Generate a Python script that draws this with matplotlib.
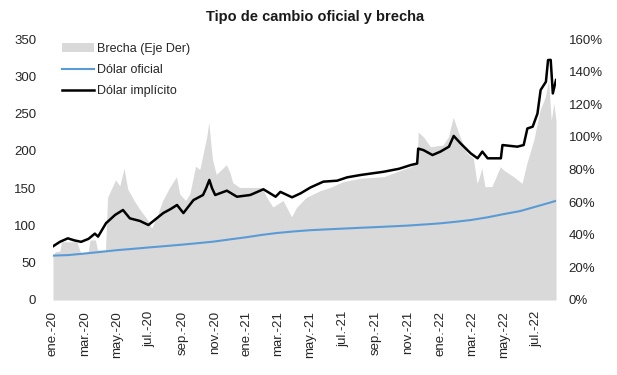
import matplotlib
matplotlib.use("Agg")
import matplotlib.pyplot as plt
import matplotlib.ticker as mticker
import pandas as pd
from matplotlib.patches import Patch
from matplotlib.lines import Line2D

plt.rcParams['font.family'] = ['Liberation Sans', 'DejaVu Sans']

# ---- Data ----
implicito_dates = ["2020-01-01", "2020-01-14", "2020-01-29", "2020-02-10", "2020-02-23", "2020-03-08",
                   "2020-03-20", "2020-03-26", "2020-04-10", "2020-04-27", "2020-05-12", "2020-05-25",
                   "2020-06-13", "2020-06-29", "2020-07-12", "2020-07-27", "2020-08-10", "2020-08-22",
                   "2020-09-03", "2020-09-22", "2020-10-10", "2020-10-16", "2020-10-22", "2020-10-27",
                   "2020-11-02", "2020-11-24", "2020-12-13", "2021-01-07", "2021-02-01", "2021-02-24",
                   "2021-03-05", "2021-03-27", "2021-04-12", "2021-05-01", "2021-05-25", "2021-06-20",
                   "2021-07-09", "2021-08-03", "2021-09-16", "2021-10-15", "2021-11-06", "2021-11-18",
                   "2021-11-20", "2021-11-30", "2021-12-17", "2022-01-01", "2022-01-17", "2022-01-26",
                   "2022-02-08", "2022-02-27", "2022-03-12", "2022-03-21", "2022-03-31", "2022-04-25",
                   "2022-04-28", "2022-05-26", "2022-06-07", "2022-06-14", "2022-06-24", "2022-07-03",
                   "2022-07-09", "2022-07-19", "2022-07-23", "2022-07-28", "2022-08-01", "2022-08-07"]
implicito = [72, 78, 82.7, 80, 78, 82,
             89, 85, 103, 114, 120.7, 109.5,
             106, 100.6, 108, 116.6, 122, 127.4,
             116.6, 134, 140.8, 150, 161, 150,
             140.8, 146.6, 138.5, 140.8, 148.5, 138.5,
             145, 137.7, 143, 151, 158.7, 160,
             164.5, 167.6, 172, 176, 181, 183,
             203, 201, 194.4, 199, 205.6, 220,
             210, 196.7, 190, 199, 190, 190,
             207.8, 205.6, 207.8, 230, 232.4, 250,
             281.6, 292.7, 321.8, 322, 277, 295]

oficial_dates = ["2020-01-01", "2020-01-31", "2020-02-28", "2020-03-31", "2020-04-30", "2020-05-29",
                 "2020-06-30", "2020-07-31", "2020-08-31", "2020-09-30", "2020-10-30", "2020-11-30",
                 "2020-12-30", "2021-01-29", "2021-02-26", "2021-03-31", "2021-04-30", "2021-05-31",
                 "2021-06-30", "2021-07-30", "2021-08-31", "2021-09-30", "2021-10-29", "2021-11-30",
                 "2021-12-30", "2022-01-31", "2022-02-28", "2022-03-31", "2022-04-29", "2022-05-31",
                 "2022-06-30", "2022-07-29", "2022-08-07"]
oficial = [59.5, 60.3, 62.2, 64.5, 66.8, 68.5,
           70.5, 72.3, 74.2, 76.2, 78.3, 81.3,
           84.1, 87.3, 89.8, 92.0, 93.6, 94.7,
           95.7, 96.7, 97.7, 98.7, 99.7, 101.2,
           102.7, 105.0, 107.3, 110.9, 115.0, 119.2,
           125.2, 131.1, 133.0]

brecha_dates = ["2020-01-01", "2020-01-05", "2020-01-14", "2020-01-17", "2020-02-15", "2020-02-22",
                "2020-03-07", "2020-03-11", "2020-03-21", "2020-03-25", "2020-04-09", "2020-04-13",
                "2020-04-28", "2020-05-06", "2020-05-14", "2020-05-21", "2020-06-02", "2020-06-14",
                "2020-06-28", "2020-07-05", "2020-07-16", "2020-07-26", "2020-08-08", "2020-08-21",
                "2020-08-27", "2020-09-07", "2020-09-15", "2020-09-26", "2020-10-04", "2020-10-13",
                "2020-10-17", "2020-10-21", "2020-10-25", "2020-10-28", "2020-11-04", "2020-11-14",
                "2020-11-23", "2020-11-30", "2020-12-05", "2020-12-18", "2021-01-06", "2021-01-29",
                "2021-02-09", "2021-02-19", "2021-03-10", "2021-03-26", "2021-04-05", "2021-04-23",
                "2021-05-19", "2021-06-07", "2021-07-01", "2021-08-03", "2021-09-16", "2021-11-06",
                "2021-11-18", "2021-11-20", "2021-11-30", "2021-12-13", "2022-01-06", "2022-01-16",
                "2022-01-25", "2022-02-07", "2022-02-20", "2022-03-04", "2022-03-11", "2022-03-15",
                "2022-03-20", "2022-03-26", "2022-04-08", "2022-04-24", "2022-04-30", "2022-05-19",
                "2022-06-04", "2022-06-13", "2022-06-26", "2022-07-08", "2022-07-18", "2022-07-24",
                "2022-07-29", "2022-08-03", "2022-08-07"]
brecha = [27, 29.6, 30, 35.7, 35.7, 29,
          29, 36.8, 36.8, 30.7, 30.7, 63,
          73.6, 70, 80.7, 68, 61, 55,
          49, 44, 52, 61, 69, 75.6,
          65, 61, 65, 82, 80, 94,
          100, 109, 95, 86, 77, 80,
          83, 78, 72, 69, 69, 69,
          62, 57, 61, 51, 57, 63,
          67, 69, 72.5, 74.6, 75.6, 81.7,
          84, 103, 100, 94, 95, 100,
          112, 100, 90, 87, 71.5, 75,
          80.7, 69.5, 69.5, 81.7, 79.7, 75.6,
          71.5, 83.8, 98, 116.5, 124.6, 135,
          110, 120.6, 110]

tick_labels = ["ene.-20", "mar.-20", "may.-20", "jul.-20", "sep.-20", "nov.-20",
               "ene.-21", "mar.-21", "may.-21", "jul.-21", "sep.-21", "nov.-21",
               "ene.-22", "mar.-22", "may.-22", "jul.-22"]

# ---- Figure ----
fig = plt.figure(figsize=(6.17, 3.75), dpi=100)
fig.patch.set_facecolor("white")
ax = fig.add_axes([53 / 617, 75 / 375, (556 - 53) / 617, (300 - 39) / 375])
ax2 = ax.twinx()

bd = pd.to_datetime(brecha_dates)
od = pd.to_datetime(oficial_dates)
idt = pd.to_datetime(implicito_dates)

ax2.fill_between(bd, 0, [b / 100 for b in brecha], color="#d9d9d9", linewidth=0, zorder=1)
ax2.set_ylim(0, 1.6)
ax2.yaxis.set_major_locator(mticker.MultipleLocator(0.2))
ax2.yaxis.set_major_formatter(mticker.FuncFormatter(lambda v, p: f"{v*100:.0f}%"))

ax.set_zorder(ax2.get_zorder() + 1)
ax.patch.set_visible(False)

ax.plot(od, oficial, color="#5b9bd5", linewidth=1.5, zorder=3)
ax.plot(idt, implicito, color="black", linewidth=1.8, zorder=4)
ax.set_ylim(0, 350)
ax.yaxis.set_major_locator(mticker.MultipleLocator(50))

ax.set_xlim(pd.Timestamp("2020-01-01"), pd.Timestamp("2022-08-07"))

tick_pos = pd.date_range("2020-01-01", "2022-07-01", freq="2MS")
ax.set_xticks(tick_pos)
ax.set_xticklabels(tick_labels, rotation=90, fontsize=9.5, color="#262626")

for a in (ax, ax2):
    for s in a.spines.values():
        s.set_visible(False)
    a.tick_params(length=0)

ax.tick_params(axis="y", labelsize=9.5, colors="#262626", pad=12)
ax.tick_params(axis="x", pad=8)
ax2.tick_params(axis="y", labelsize=9.5, colors="#262626", pad=9)

fig.text(0.51, 0.955, "Tipo de cambio oficial y brecha", ha="center", va="center",
         fontsize=10.5, fontweight="bold", color="#1a1a1a")

handles = [Patch(facecolor="#d9d9d9", edgecolor="none"),
           Line2D([], [], color="#5b9bd5", linewidth=1.5),
           Line2D([], [], color="black", linewidth=1.8)]
labels = ["Brecha (Eje Der)", "Dólar oficial", "Dólar implícito"]
ax.legend(handles, labels, loc="upper left", bbox_to_anchor=(0.005, 1.01), frameon=False,
          fontsize=9, handlelength=2.6, handletextpad=0.2, labelspacing=0.75,
          borderaxespad=0.1, labelcolor="#262626")

fig.savefig("out.png", dpi=100)
